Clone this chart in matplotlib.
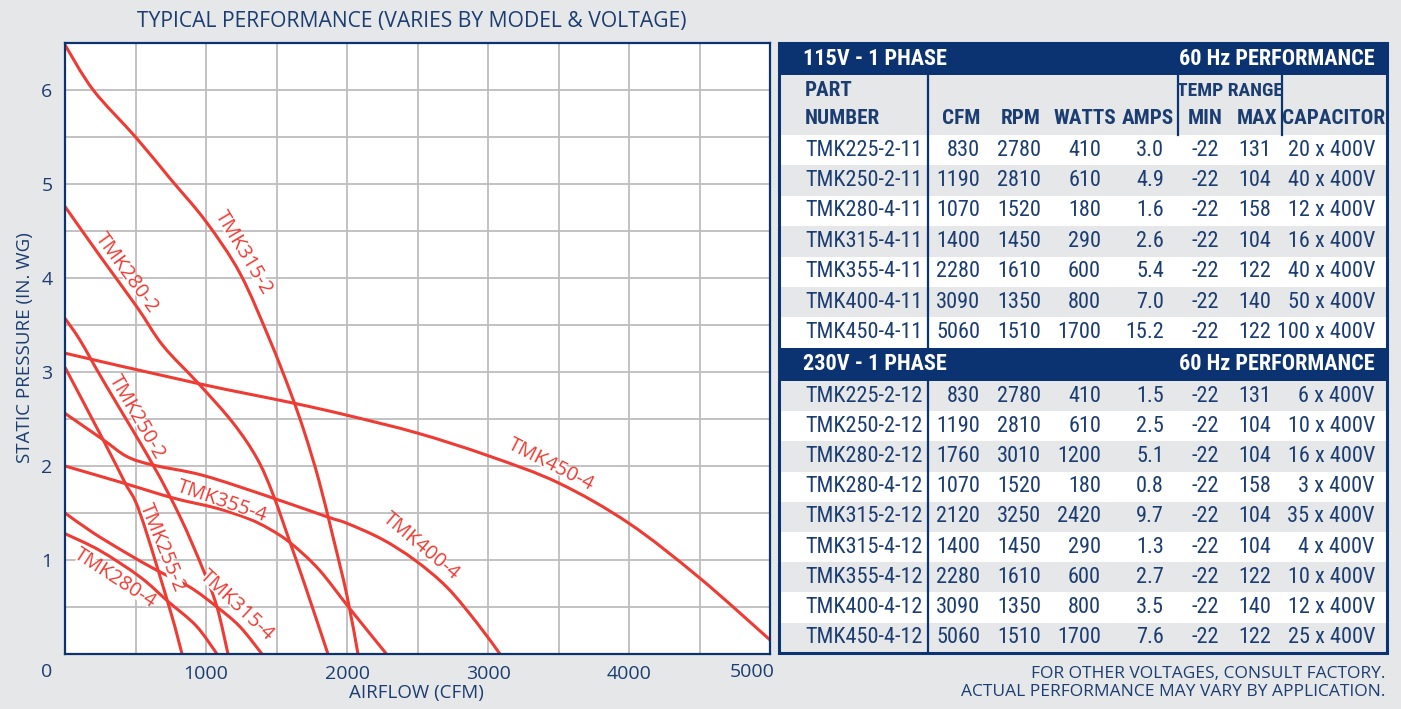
import matplotlib
matplotlib.use("Agg")
import matplotlib.pyplot as plt
from matplotlib import font_manager
from matplotlib.patches import Rectangle, PathPatch
from matplotlib.path import Path

# fan curves: airflow (CFM) vs static pressure (in. WG)
tmk315_2_cfm = [0, 200, 500, 750, 1000, 1241, 1450, 1600, 1700, 1800, 1900, 2000, 2078]
tmk315_2_wg = [6.48, 6.0, 5.5, 5.05, 4.6, 4.05, 3.35, 2.78, 2.35, 1.85, 1.25, 0.62, 0.0]

tmk280_2_cfm = [0, 250, 511, 695, 945, 1191, 1362, 1475, 1600, 1700, 1865]
tmk280_2_wg = [4.76, 4.23, 3.69, 3.28, 2.88, 2.46, 2.08, 1.70, 1.17, 0.74, 0.0]

tmk250_2_cfm = [0, 106, 270, 617, 816, 979, 1078, 1156]
tmk250_2_wg = [3.57, 3.34, 2.91, 2.03, 1.46, 0.90, 0.50, 0.0]

tmk450_4_cfm = [0, 936, 1617, 2000, 2500, 3000, 3500, 4000, 4500, 5000]
tmk450_4_wg = [3.2, 2.88, 2.67, 2.54, 2.35, 2.11, 1.82, 1.39, 0.81, 0.15]

tmk225_2_cfm = [0, 270, 426, 532, 745, 830]
tmk225_2_wg = [3.05, 2.28, 1.82, 1.50, 0.47, 0.0]

tmk400_4_cfm = [0, 270, 440, 624, 979, 1454, 1858, 2000, 2250, 2480, 2709, 2922, 3085]
tmk400_4_wg = [2.56, 2.28, 2.10, 2.01, 1.90, 1.67, 1.46, 1.39, 1.22, 1.00, 0.71, 0.33, 0.0]

tmk355_4_cfm = [0, 411, 766, 1078, 1300, 1450, 1600, 1800, 2021, 2280]
tmk355_4_wg = [2.0, 1.82, 1.66, 1.55, 1.44, 1.33, 1.18, 0.90, 0.48, 0.0]

tmk315_4_cfm = [0, 199, 440, 652, 887, 1078, 1241, 1397]
tmk315_4_wg = [1.5, 1.29, 1.07, 0.89, 0.71, 0.50, 0.29, 0.0]

tmk280_4_cfm = [0, 248, 532, 730, 930, 1078]
tmk280_4_wg = [1.28, 1.10, 0.82, 0.56, 0.30, 0.0]

# curve labels: text, cfm, in. WG, angle
label_text = ["TMK315-2", "TMK280-2", "TMK250-2", "TMK355-4", "TMK255-2",
              "TMK280-4", "TMK315-4", "TMK400-4", "TMK450-4"]
label_cfm = [1265, 440, 511, 1113, 688, 352, 1215, 2525, 3450]
label_wg = [4.27, 4.05, 2.52, 1.62, 1.13, 0.80, 0.52, 1.14, 2.01]
label_rot = [-59, -54, -60, -19, -68, -33, -43, -40, -27]

# table data
parts_115 = ["TMK225-2-11", "TMK250-2-11", "TMK280-4-11", "TMK315-4-11",
             "TMK355-4-11", "TMK400-4-11", "TMK450-4-11"]
cfm_115 = [830, 1190, 1070, 1400, 2280, 3090, 5060]
rpm_115 = [2780, 2810, 1520, 1450, 1610, 1350, 1510]
watts_115 = [410, 610, 180, 290, 600, 800, 1700]
amps_115 = ["3.0", "4.9", "1.6", "2.6", "5.4", "7.0", "15.2"]
tmin_115 = [-22, -22, -22, -22, -22, -22, -22]
tmax_115 = [131, 104, 158, 104, 122, 140, 122]
cap_115 = ["20 x 400V", "40 x 400V", "12 x 400V", "16 x 400V",
           "40 x 400V", "50 x 400V", "100 x 400V"]

parts_230 = ["TMK225-2-12", "TMK250-2-12", "TMK280-2-12", "TMK280-4-12",
             "TMK315-2-12", "TMK315-4-12", "TMK355-4-12", "TMK400-4-12",
             "TMK450-4-12"]
cfm_230 = [830, 1190, 1760, 1070, 2120, 1400, 2280, 3090, 5060]
rpm_230 = [2780, 2810, 3010, 1520, 3250, 1450, 1610, 1350, 1510]
watts_230 = [410, 610, 1200, 180, 2420, 290, 600, 800, 1700]
amps_230 = ["1.5", "2.5", "5.1", "0.8", "9.7", "1.3", "2.7", "3.5", "7.6"]
tmin_230 = [-22, -22, -22, -22, -22, -22, -22, -22, -22]
tmax_230 = [131, 104, 104, 158, 104, 104, 122, 140, 122]
cap_230 = ["6 x 400V", "10 x 400V", "16 x 400V", "3 x 400V", "35 x 400V",
           "4 x 400V", "10 x 400V", "12 x 400V", "25 x 400V"]

RED = "#EE3B33"
NAVY = "#0B3372"
TXT = "#1B3D72"
BG = "#E6E7E8"
GRID = "#BDBDBD"

names = {f.name for f in font_manager.fontManager.ttflist}
narrow = "Liberation Sans"
nsize = 13.5
for cand in ["Liberation Sans Narrow", "DejaVu Sans Condensed", "Roboto Condensed"]:
    if cand in names:
        narrow = cand
        nsize = 16
        break
SANS = "Open Sans" if "Open Sans" in names else "DejaVu Sans"


def smooth_path(xs, ys):
    # bezier path through the read points (catmull-rom handles)
    pts = list(zip(xs, ys))
    n = len(pts)
    verts = [pts[0]]
    codes = [Path.MOVETO]
    for i in range(n - 1):
        p0 = pts[i - 1] if i > 0 else pts[i]
        p1 = pts[i]
        p2 = pts[i + 1]
        p3 = pts[i + 2] if i + 2 < n else pts[i + 1]
        c1 = (p1[0] + (p2[0] - p0[0]) / 6, p1[1] + (p2[1] - p0[1]) / 6)
        c2 = (p2[0] - (p3[0] - p1[0]) / 6, p2[1] - (p3[1] - p1[1]) / 6)
        verts += [c1, c2, p2]
        codes += [Path.CURVE4] * 3
    return Path(verts, codes)


W, H = 1401, 709
fig = plt.figure(figsize=(W / 100, H / 100), dpi=100, facecolor=BG)

# ---- chart ----
ax = fig.add_axes([65 / W, 1 - 654 / H, 705 / W, 611 / H])
ax.set_facecolor("white")
ax.set_xlim(0, 5000)
ax.set_ylim(0, 6.5)

xt = list(range(0, 5001, 500))
ax.set_xticks(xt)
ax.set_xticklabels([str(v) if v in (1000, 2000, 3000, 4000) else "" for v in xt])
yt = [i * 0.5 for i in range(14)]
ax.set_yticks(yt)
ax.set_yticklabels([str(int(v)) if v in (1, 2, 3, 4, 5, 6) else "" for v in yt])
ax.tick_params(length=0, colors=TXT, labelsize=14)
ax.tick_params(axis="y", pad=9)
ax.tick_params(axis="x", pad=8)
for lab in ax.get_xticklabels() + ax.get_yticklabels():
    lab.set_family(SANS)
ax.grid(True, color=GRID, lw=1.3)
ax.set_axisbelow(True)
for s in ax.spines.values():
    s.set_color(NAVY)
    s.set_linewidth(1.6)

curves = [
    (tmk315_2_cfm, tmk315_2_wg), (tmk280_2_cfm, tmk280_2_wg),
    (tmk250_2_cfm, tmk250_2_wg), (tmk450_4_cfm, tmk450_4_wg),
    (tmk225_2_cfm, tmk225_2_wg), (tmk400_4_cfm, tmk400_4_wg),
    (tmk355_4_cfm, tmk355_4_wg), (tmk315_4_cfm, tmk315_4_wg),
    (tmk280_4_cfm, tmk280_4_wg),
]
for cx, cy in curves:
    ax.add_patch(PathPatch(smooth_path(cx, cy), fill=False, ec=RED, lw=2.2,
                           capstyle="butt", zorder=2))

for t, x, y, r in zip(label_text, label_cfm, label_wg, label_rot):
    ax.text(x, y, t, rotation=r, rotation_mode="anchor", ha="center", va="center",
            color=RED, fontsize=14.5, family=SANS, zorder=4,
            bbox=dict(boxstyle="square,pad=-0.2", fc="white", ec="none"))

# ---- overlay in pixel units for text and table ----
tx = fig.add_axes([0, 0, 1, 1])
tx.set_xlim(0, W)
tx.set_ylim(H, 0)
tx.axis("off")

tx.text(412, 22, "TYPICAL PERFORMANCE (VARIES BY MODEL & VOLTAGE)", ha="center",
        va="center", color=TXT, fontsize=15.2, family=SANS)
tx.text(47, 672, "0", ha="center", va="center", color=TXT, fontsize=14, family=SANS)
tx.text(752, 672, "5000", ha="center", va="center", color=TXT, fontsize=14, family=SANS)
tx.text(416, 693, "AIRFLOW (CFM)", ha="center", va="center", color=TXT,
        fontsize=13.5, family=SANS)
tx.text(25, 348, "STATIC PRESSURE (IN. WG)", ha="center", va="center", color=TXT,
        fontsize=13.5, family=SANS, rotation=90)
tx.text(1385, 674, "FOR OTHER VOLTAGES, CONSULT FACTORY.", ha="right", va="center",
        color=TXT, fontsize=12.5, family=SANS)
tx.text(1385, 692, "ACTUAL PERFORMANCE MAY VARY BY APPLICATION.", ha="right",
        va="center", color=TXT, fontsize=12.5, family=SANS)

# table geometry (pixels)
L, R = 779, 1387
DIV = 928
cols_right = [980, 1041, 1101, 1164, 1219, 1271, 1375]


def bar(y0, y1, left_txt):
    tx.add_patch(Rectangle((L, y0), R - L, y1 - y0, fc=NAVY, ec="none"))
    yc = (y0 + y1) / 2
    tx.text(803, yc, left_txt, ha="left", va="center", color="white",
            fontsize=nsize, family=narrow, weight="bold")
    tx.text(1375, yc, "60 Hz PERFORMANCE", ha="right", va="center", color="white",
            fontsize=nsize, family=narrow, weight="bold")


def rows(y0, rh, parts, cfm, rpm, watts, amps, tmin, tmax, cap, first_gray):
    for i in range(len(parts)):
        top = y0 + i * rh
        gray = (i % 2 == 0) == first_gray
        tx.add_patch(Rectangle((L, top), R - L, rh, fc=BG if gray else "white",
                               ec="none"))
        yc = top + rh / 2
        tx.text(805, yc, parts[i], ha="left", va="center", color=TXT,
                fontsize=nsize, family=narrow)
        vals = [cfm[i], rpm[i], watts[i], amps[i], tmin[i], tmax[i], cap[i]]
        for v, xr in zip(vals, cols_right):
            tx.text(xr, yc, str(v), ha="right", va="center", color=TXT,
                    fontsize=nsize, family=narrow)
    return y0 + len(parts) * rh


bar(43, 75, "115V - 1 PHASE")
# header
tx.add_patch(Rectangle((L, 75), R - L, 60, fc=BG, ec="none"))
hsize = nsize - 0.8
hk = dict(va="center", color=TXT, fontsize=hsize, family=narrow, weight="bold")
tx.text(805, 91, "PART", ha="left", **hk)
tx.text(805, 119, "NUMBER", ha="left", **hk)
tx.text(980, 119, "CFM", ha="right", **hk)
tx.text(1041, 119, "RPM", ha="right", **hk)
tx.text(1085, 119, "WATTS", ha="center", **hk)
tx.text(1148, 119, "AMPS", ha="center", **hk)
tx.text(1230, 91, "TEMP RANGE", ha="center", va="center", color=TXT,
        fontsize=nsize - 2, family=narrow, weight="bold")
tx.text(1205, 119, "MIN", ha="center", **hk)
tx.text(1257, 119, "MAX", ha="center", **hk)
tx.text(1334, 119, "CAPACITOR", ha="center", **hk)
for xv in (1178, 1282):
    tx.plot([xv, xv], [75, 135], color=NAVY, lw=1.6)

end1 = rows(135, 30.4, parts_115, cfm_115, rpm_115, watts_115, amps_115,
            tmin_115, tmax_115, cap_115, first_gray=False)
tx.plot([DIV, DIV], [75, end1], color=NAVY, lw=1.6)

bar(end1, 381, "230V - 1 PHASE")
end2 = rows(381, 30.2, parts_230, cfm_230, rpm_230, watts_230, amps_230,
            tmin_230, tmax_230, cap_230, first_gray=True)
tx.plot([DIV, DIV], [381, end2], color=NAVY, lw=1.6)

tx.add_patch(Rectangle((L, 43), R - L, end2 - 43, fc="none", ec=NAVY, lw=2.2))

fig.savefig("out.png", dpi=100, facecolor=BG)
